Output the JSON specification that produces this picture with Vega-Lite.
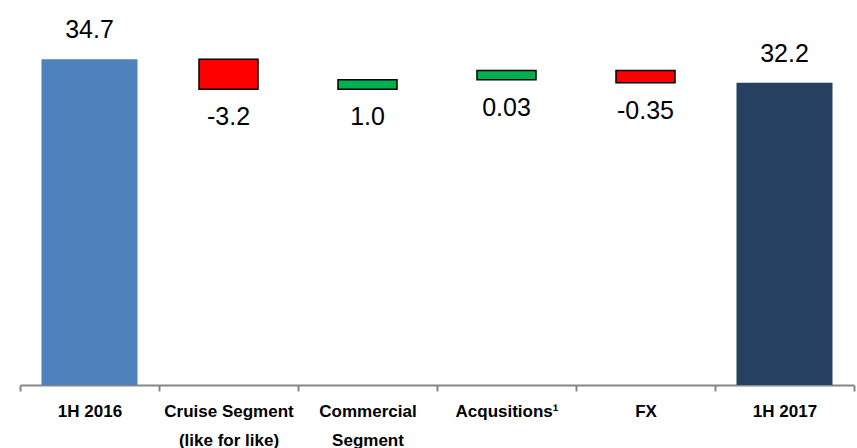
{
  "$schema": "https://vega.github.io/schema/vega-lite/v6.json",
  "width": 834,
  "height": 385,
  "autosize": "none",
  "padding": {"left": 20, "top": 0, "right": 3, "bottom": 63},
  "background": "white",
  "config": {"view": {"stroke": null}, "font": "Liberation Sans"},
  "data": {
    "values": [
      {"cat": "1H 2016", "lo": 0, "hi": 34.7, "label": "34.7", "kind": "start"},
      {"cat": "Cruise Segment\n(like for like)", "lo": 31.5, "hi": 34.7, "label": "-3.2", "kind": "decrease"},
      {"cat": "Commercial\nSegment", "lo": 31.5, "hi": 32.5, "label": "1.0", "kind": "increase"},
      {"cat": "Acqusitions¹", "lo": 32.5, "hi": 33.5, "label": "0.03", "kind": "increase"},
      {"cat": "FX", "lo": 32.2, "hi": 33.5, "label": "-0.35", "kind": "decrease"},
      {"cat": "1H 2017", "lo": 0, "hi": 32.2, "label": "32.2", "kind": "end"}
    ]
  },
  "encoding": {
    "x": {
      "field": "cat", "type": "nominal",
      "sort": ["1H 2016", "Cruise Segment\n(like for like)", "Commercial\nSegment", "Acqusitions¹", "FX", "1H 2017"],
      "scale": {"paddingInner": 0, "paddingOuter": 0},
      "axis": {
        "title": null, "labelAngle": 0, "labelFontSize": 17, "labelFontWeight": "bold",
        "labelColor": "black", "labelExpr": "datum.value ? split(datum.value, '\\n') : ''", "labelLineHeight": 29,
        "labelBaseline": "top", "labelPadding": 12, "labelLimit": 200,
        "domainColor": "#868686", "domainWidth": 2, "tickColor": "#868686", "tickWidth": 2,
        "tickSize": 6, "tickBand": "extent", "grid": false
      }
    },
    "y": {
      "field": "hi", "type": "quantitative",
      "scale": {"domain": [0, 41], "nice": false, "zero": true},
      "axis": null
    },
    "color": {
      "field": "kind", "type": "nominal",
      "scale": {"domain": ["start", "decrease", "increase", "end"], "range": ["#4F81BD", "#FF0000", "#00B050", "#254061"]},
      "legend": null
    }
  },
  "layer": [
    {
      "transform": [{"filter": "datum.kind == 'start' || datum.kind == 'end'"}],
      "mark": {"type": "bar", "size": 96},
      "encoding": {"y2": {"field": "lo"}}
    },
    {
      "transform": [{"filter": "datum.kind == 'increase' || datum.kind == 'decrease'"}],
      "mark": {"type": "bar", "size": 59, "stroke": "black", "strokeWidth": 1.5},
      "encoding": {"y2": {"field": "lo"}}
    },
    {
      "transform": [{"filter": "datum.kind == 'start' || datum.kind == 'end'"}],
      "mark": {"type": "text", "fontSize": 25, "baseline": "alphabetic", "dy": -21, "color": "black"},
      "encoding": {"text": {"field": "label"}, "color": {"value": "black"}}
    },
    {
      "transform": [{"filter": "datum.kind == 'increase' || datum.kind == 'decrease'"}],
      "mark": {"type": "text", "fontSize": 25, "baseline": "alphabetic", "dy": 36, "color": "black"},
      "encoding": {"text": {"field": "label"}, "y": {"field": "lo", "type": "quantitative"}, "color": {"value": "black"}}
    }
  ]
}
